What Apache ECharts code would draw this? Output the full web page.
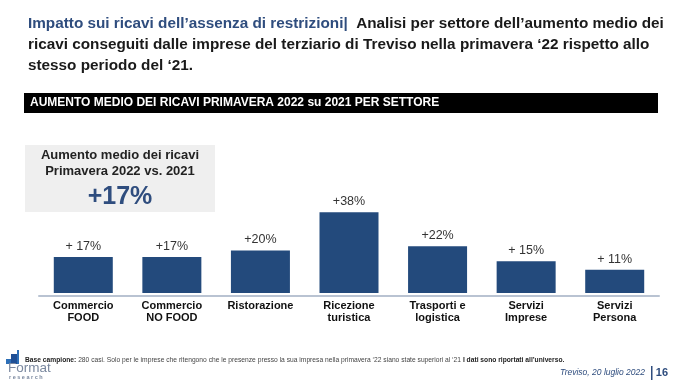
<!DOCTYPE html>
<html>
<head>
<meta charset="utf-8">
<script src="https://cdn.jsdelivr.net/npm/echarts@6/dist/echarts.min.js"></script>
<style>
html,body{margin:0;padding:0;background:#fff;}
#c{width:680px;height:383px;}
</style>
</head>
<body>
<div id="c"></div>
<script>
var categories = ['Commercio\nFOOD', 'Commercio\nNO FOOD', 'Ristorazione', 'Ricezione\nturistica', 'Trasporti e\nlogistica', 'Servizi\nImprese', 'Servizi\nPersona'];
var values = [17, 17, 20, 38, 22, 15, 11];
var valueLabels = ['+ 17%', '+17%', '+20%', '+38%', '+22%', '+ 15%', '+ 11%'];
var summaryValue = '+17%';

var chart = echarts.init(document.getElementById('c'));
var FONT = '"Liberation Sans", Arial, sans-serif';
var NARROW = '"Liberation Sans Narrow", "Liberation Sans", Arial, sans-serif';
chart.setOption({
  backgroundColor: '#ffffff',
  animation: false,
  title: {
    left: 23, top: 8,
    text: '{a|Impatto sui ricavi dell\u2019assenza di restrizioni|}{b|  Analisi per settore dell\u2019aumento medio dei}\n{b|ricavi conseguiti dalle imprese del terziario di Treviso nella primavera \u201822 rispetto allo}\n{b|stesso periodo del \u201821.}',
    textStyle: {
      fontFamily: FONT,
      rich: {
        a: {fontSize: 15.3, color: '#2f4d7e', fontFamily: FONT, lineHeight: 21},
        b: {fontSize: 15.3, color: '#1a1a1a', fontWeight: 'bold', fontFamily: FONT, lineHeight: 21}
      }
    }
  },
  grid: {left: 39, width: 620, top: 208, bottom: 87, containLabel: false},
  xAxis: {
    type: 'category',
    data: categories,
    axisLine: {onZero: false, lineStyle: {color: '#b9c3d2', width: 2}},
    axisTick: {show: false},
    axisLabel: {
      interval: 0, margin: 4,
      fontFamily: FONT, fontSize: 11, fontWeight: 'bold', color: '#111', lineHeight: 12
    }
  },
  yAxis: {
    type: 'value', min: -1.4, max: 40, show: false,
    splitLine: {show: false}
  },
  series: [{
    type: 'bar',
    data: values,
    barWidth: 59,
    itemStyle: {color: '#234a7c'},
    label: {
      show: true, position: 'top', distance: 4,
      fontFamily: FONT, fontSize: 12.5, color: '#333',
      formatter: function (p) { return valueLabels[p.dataIndex]; }
    }
  }],
  graphic: [
    {type: 'rect', shape: {x: 24, y: 93, width: 634, height: 20}, style: {fill: '#000'}},
    {type: 'text', x: 30, y: 103, style: {text: 'AUMENTO MEDIO DEI RICAVI PRIMAVERA 2022 su 2021 PER SETTORE', fill: '#fff', font: 'bold 12px ' + FONT, textVerticalAlign: 'middle'}},
    {type: 'rect', shape: {x: 25, y: 145, width: 190, height: 67}, style: {fill: '#efefef'}},
    {type: 'text', x: 120, y: 155, style: {text: 'Aumento medio dei ricavi', fill: '#222', font: 'bold 13px ' + FONT, textAlign: 'center', textVerticalAlign: 'middle'}},
    {type: 'text', x: 120, y: 171, style: {text: 'Primavera 2022 vs. 2021', fill: '#222', font: 'bold 13px ' + FONT, textAlign: 'center', textVerticalAlign: 'middle'}},
    {type: 'text', x: 120, y: 197, style: {text: summaryValue, fill: '#2f4d7e', font: 'bold 25px ' + FONT, textAlign: 'center', textVerticalAlign: 'middle'}},
    {type: 'rect', shape: {x: 6, y: 359, width: 5, height: 5}, style: {fill: '#2d6fb7'}},
    {type: 'rect', shape: {x: 11, y: 354, width: 6, height: 10}, style: {fill: '#1f4f95'}},
    {type: 'rect', shape: {x: 17, y: 350, width: 2, height: 14}, style: {fill: '#2d6fb7'}},
    {type: 'text', x: 8, y: 368, style: {text: 'Format', fill: '#7a889f', font: '13.5px ' + FONT, textVerticalAlign: 'middle'}},
    {type: 'text', x: 9, y: 377, style: {text: 'r e s e a r c h', fill: '#7a889f', font: 'bold 5.5px ' + FONT, textVerticalAlign: 'middle'}},
    {type: 'text', x: 25, y: 360, style: {rich: {b: {font: 'bold 6.7px ' + FONT, fill: '#222'}, n: {font: '6.7px ' + FONT, fill: '#444'}}, text: '{b|Base campione:}{n| 280 casi. Solo per le imprese che ritengono che le presenze presso la sua impresa nella primavera \u201822 siano state superiori al \u201821 }{b|I dati sono riportati all\u2019universo.}', textVerticalAlign: 'middle'}},
    {type: 'text', x: 645, y: 373, style: {text: 'Treviso, 20 luglio 2022', fill: '#2f4d7e', font: 'italic 8.5px ' + NARROW, textAlign: 'right', textVerticalAlign: 'middle'}},
    {type: 'rect', shape: {x: 651, y: 366, width: 1.5, height: 14}, style: {fill: '#2f4d7e'}},
    {type: 'text', x: 668, y: 373, style: {text: '16', fill: '#2f4d7e', font: 'bold 11px ' + FONT, textAlign: 'right', textVerticalAlign: 'middle'}}
  ]
});
</script>
</body>
</html>
